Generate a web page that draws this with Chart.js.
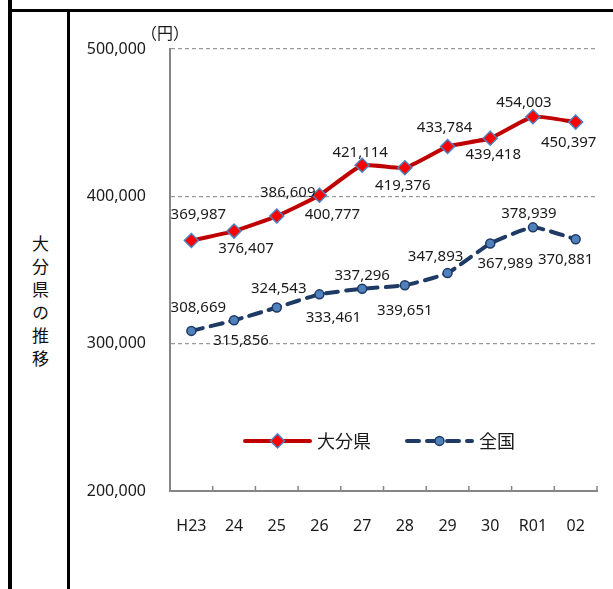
<!DOCTYPE html>
<html>
<head>
<meta charset="utf-8">
<script src="https://cdn.jsdelivr.net/npm/chart.js@4.4.1/dist/chart.umd.min.js"></script>
<style>
  html, body { margin: 0; padding: 0; background: #fff; }
  body { width: 613px; height: 589px; position: relative; overflow: hidden; }
  .rule { position: absolute; background: #000; }
  #side {
    position: absolute; left: 28px; top: 235px; width: 24px;
    writing-mode: vertical-rl; font-family: 'Noto Sans CJK JP', sans-serif;
    font-size: 17px; line-height: 24px; letter-spacing: 6px; color: #111;
  }
  #wrap { position: absolute; left: 0; top: 0; width: 613px; height: 589px; }
</style>
</head>
<body>
<div class="rule" style="left:8px;top:0;width:4px;height:589px"></div>
<div class="rule" style="left:8px;top:9px;width:605px;height:3px"></div>
<div class="rule" style="left:67px;top:9px;width:3px;height:580px"></div>
<div id="side">大分県の推移</div>
<div id="wrap"><canvas id="chart"></canvas></div>
<script>
const years = ['H23', '24', '25', '26', '27', '28', '29', '30', 'R01', '02']
const oitaValues = [369987, 376407, 386609, 400777, 421114, 419376, 433784, 439418, 454003, 450397]
const nationalValues = [308669, 315856, 324543, 333461, 337296, 339651, 347893, 367989, 378939, 370881]
const seriesNames = ['大分県', '全国']
const yMin = 200000
const yMax = 500000
const yStep = 100000
const unitLabel = '（円）'

// where each value label sits relative to its point (px)
const oitaLabelOffsets = [[7, -26], [12, 18], [11, -23], [13, 20], [-2, -12], [-2, 18], [-3, -19], [3, 16], [-9, -14], [-7, 21]]
const nationalLabelOffsets = [[7, -23], [7, 20], [2, -19], [14, 23], [0, -13], [0, 25], [-12, -16], [15, 20], [-4, -14], [-10, 20]]

const fontFamily = "'Noto Sans', 'Noto Sans CJK JP', sans-serif"
const axisColor = '#868686'
const textColor = '#1a1a1a'
Chart.defaults.font.family = fontFamily
Chart.defaults.color = textColor

const fmt = v => v.toLocaleString('en-US')

const valueLabels = {
  id: 'valueLabels',
  afterDatasetsDraw (chart) {
    const ctx = chart.ctx
    ctx.save()
    ctx.font = '15px ' + fontFamily
    ctx.fillStyle = textColor
    ctx.textAlign = 'center'
    ctx.textBaseline = 'middle'
    chart.data.datasets.forEach((ds, di) => {
      const offs = di === 0 ? oitaLabelOffsets : nationalLabelOffsets
      chart.getDatasetMeta(di).data.forEach((pt, i) => {
        ctx.fillText(fmt(ds.data[i]), pt.x + offs[i][0], pt.y + offs[i][1])
      })
    })
    ctx.restore()
  }
}

const axisExtras = {
  id: 'axisExtras',
  afterDraw (chart) {
    const ctx = chart.ctx
    const x = chart.scales.x
    const area = chart.chartArea
    ctx.save()
    // small tick marks pointing up between categories
    ctx.strokeStyle = axisColor
    ctx.lineWidth = 1.5
    for (let i = 0; i <= years.length; i++) {
      const px = x.getPixelForValue(i - 0.5)
      ctx.beginPath()
      ctx.moveTo(px, area.bottom)
      ctx.lineTo(px, area.bottom - 5)
      ctx.stroke()
    }
    // unit
    ctx.font = "16px 'Noto Sans CJK JP', sans-serif"
    ctx.fillStyle = textColor
    ctx.textAlign = 'center'
    ctx.textBaseline = 'middle'
    ctx.fillText(unitLabel, area.left - 5, area.top - 16)
    ctx.restore()
  }
}

function marker (ctx, ds, cx, cy) {
  const r = ds.pointRadius
  ctx.save()
  ctx.fillStyle = ds.pointBackgroundColor
  ctx.strokeStyle = ds.pointBorderColor
  ctx.lineWidth = ds.pointBorderWidth
  ctx.setLineDash([])
  ctx.beginPath()
  if (ds.pointStyle === 'rectRot') {
    ctx.moveTo(cx - r, cy); ctx.lineTo(cx, cy - r); ctx.lineTo(cx + r, cy); ctx.lineTo(cx, cy + r); ctx.closePath()
  } else {
    ctx.arc(cx, cy, r, 0, Math.PI * 2)
  }
  ctx.fill()
  ctx.stroke()
  ctx.restore()
}

const insideLegend = {
  id: 'insideLegend',
  afterDraw (chart) {
    const ctx = chart.ctx
    const y = chart.scales.y.getPixelForValue(234000)
    const starts = [245, 407]
    const lineLen = 65
    chart.data.datasets.forEach((ds, i) => {
      const x0 = starts[i]
      ctx.save()
      ctx.strokeStyle = ds.borderColor
      ctx.lineWidth = ds.borderWidth
      ctx.lineCap = 'round'
      ctx.setLineDash(ds.borderDash || [])
      ctx.beginPath()
      ctx.moveTo(x0, y)
      ctx.lineTo(x0 + lineLen, y)
      ctx.stroke()
      ctx.restore()
      marker(ctx, ds, x0 + lineLen / 2, y)
      ctx.save()
      ctx.font = "18px 'Noto Sans CJK JP', sans-serif"
      ctx.fillStyle = textColor
      ctx.textAlign = 'left'
      ctx.textBaseline = 'middle'
      ctx.fillText(ds.label, x0 + lineLen + 7, y)
      ctx.restore()
    })
  }
}

new Chart(document.getElementById('chart'), {
  type: 'line',
  data: {
    labels: years,
    datasets: [{
      label: seriesNames[0],
      data: oitaValues,
      borderColor: '#C00000',
      borderWidth: 4,
      tension: 0.15,
      pointStyle: 'rectRot',
      pointRadius: 7,
      pointBackgroundColor: '#FF0000',
      pointBorderColor: '#4F81BD',
      pointBorderWidth: 1.5,
      clip: false
    }, {
      label: seriesNames[1],
      data: nationalValues,
      borderColor: '#1F3A64',
      borderWidth: 4,
      borderDash: [12, 8],
      borderCapStyle: 'round',
      tension: 0.15,
      pointStyle: 'circle',
      pointRadius: 4.5,
      pointBackgroundColor: '#4F81BD',
      pointBorderColor: '#1F3A64',
      pointBorderWidth: 1.5,
      clip: false
    }]
  },
  options: {
    responsive: true,
    maintainAspectRatio: false,
    animation: false,
    layout: { padding: { top: 49, right: 16, left: 0, bottom: 0 } },
    plugins: { legend: { display: false }, tooltip: { enabled: false } },
    scales: {
      x: {
        offset: true,
        grid: { display: false },
        border: { display: true, color: axisColor, width: 2 },
        ticks: { padding: 18, maxRotation: 0, font: { size: 16 }, color: textColor },
        afterFit (scale) { scale.height = 98 }
      },
      y: {
        min: yMin,
        max: yMax,
        grid: {
          drawTicks: false,
          lineWidth: 1.3,
          color: c => (c.tick && c.tick.value === yMin ? 'rgba(0,0,0,0)' : '#9a9a9a')
        },
        border: { display: true, color: axisColor, width: 2, dash: [4, 3] },
        ticks: { stepSize: yStep, padding: 24, font: { size: 16 }, color: textColor, callback: v => fmt(v) },
        afterFit (scale) { scale.width = 170 }
      }
    }
  },
  plugins: [valueLabels, axisExtras, insideLegend]
})
</script>
</body>
</html>
